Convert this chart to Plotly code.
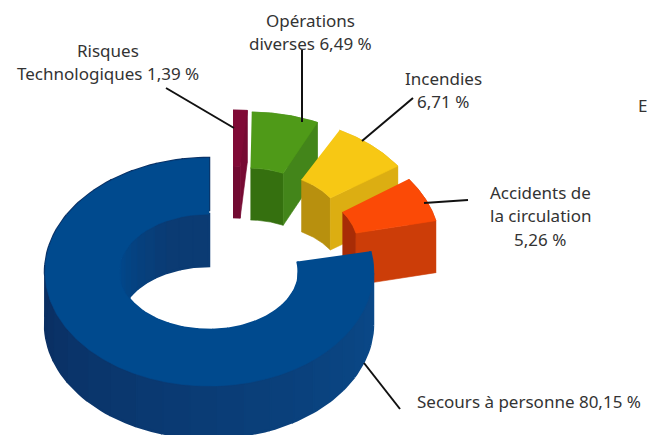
import numpy as np
import plotly.graph_objects as go

# --- data ---
categories = ["Risques Technologiques", "Opérations diverses", "Incendies",
              "Accidents de la circulation", "Secours à personne"]
values = [1.39, 6.49, 6.71, 5.26, 80.15]
label_lines = [["Risques", "Technologiques 1,39 %"], ["Opérations", "diverses 6,49 %"],
               ["Incendies", "6,71 %"], ["Accidents de", "la circulation", "5,26 %"],
               ["Secours à personne 80,15 %"]]

# --- styling / layout ---
W, H = 647, 435
CX, CY = 209, 272
RX, RY = 164, 114
IX = [82, 82, 82, 82, 90]
IY = 58
DEPTH = 52
explode = [(24, -48), (40, -46), (54, -41), (67, -26), (0, 0)]
rot = [0, -4, -1, -2, 0]
top_c = ["#800a36", "#4f9a18", "#f7c814", "#fb4a06", "#004a8e"]
inner_c = ["#720a32", "#35700f", "#b8900e", "#a82c06", "#0b3b73"]
end_c = ["#760a33", "#43851a", "#dcae12", "#cc3d08", "#0b3b73"]
label_pos = [(108, 50), (310, 20), (443, 78), (540, 192), (529, 401)]
LINE_STEP = 23.5
leaders = [(166, 88, 234, 128), (302, 50, 302, 122), (413, 98, 362, 141),
           (468, 200, 424, 203), (364, 363, 400, 409)]


def warp(t):
    return t + 10 * np.sin(np.radians(t)) ** 4


def arc(t0, t1, rx, ry, dx, dy, dz=0, n=50):
    t = warp(np.linspace(t0, t1, n))
    a = np.radians(t)
    return CX + dx + rx * np.sin(a), CY + dy - ry * np.cos(a) + dz


fig = go.Figure()


def poly(xs, ys, color, name, lw=0.6):
    fig.add_trace(go.Scatter(x=np.round(xs, 2).tolist(), y=np.round(ys, 2).tolist(),
                             mode="lines", fill="toself", fillcolor=color,
                             line=dict(color=color, width=lw), name=name,
                             hoverinfo="name", showlegend=False))


def blend(a, b, f):
    ca = [int(a[i:i + 2], 16) for i in (1, 3, 5)]
    cb = [int(b[i:i + 2], 16) for i in (1, 3, 5)]
    return "#%02x%02x%02x" % tuple(int(p + (q - p) * f) for p, q in zip(ca, cb))


start = np.cumsum([0] + values[:-1]) * 3.6
for i, (cat, v) in enumerate(zip(categories, values)):
    t0 = start[i] + rot[i]
    t1 = t0 + v * 3.6
    dx, dy = explode[i]
    if i == 4:
        # walls shaded piece by piece
        edges = np.linspace(t0, t1, 31)
        for a, b in zip(edges[:-1], edges[1:]):
            mid = warp((a + b) / 2)
            f = np.clip((mid - 90) / 180, 0, 1)
            col = blend("#0a4a8a", "#0a2f62", f)
            x1, y1 = arc(a, b, RX, RY, dx, dy, 0, 6)
            x2, y2 = arc(b, a, RX, RY, dx, dy, DEPTH, 6)
            poly(np.r_[x1, x2], np.r_[y1, y2], col, cat, 2.5)
        for a, b in zip(edges[:-1], edges[1:]):
            mid = warp((a + b) / 2)
            f = np.clip((mid - 275) / 60, 0, 1)
            col = blend(top_c[4], inner_c[4], f)
            x1, y1 = arc(a, b, IX[i], IY, dx, dy, 0, 6)
            x2, y2 = arc(b, a, IX[i], IY, dx, dy, DEPTH, 6)
            poly(np.r_[x1, x2], np.r_[y1, y2], col, cat, 2.5)
    else:
        x1, y1 = arc(t0, t1, RX, RY, dx, dy)
        x2, y2 = arc(t1, t0, RX, RY, dx, dy, DEPTH)
        poly(np.r_[x1, x2], np.r_[y1, y2], end_c[i], cat)
        # inner wall
        x1, y1 = arc(t0, t1, IX[i], IY, dx, dy)
        x2, y2 = arc(t1, t0, IX[i], IY, dx, dy, DEPTH)
        poly(np.r_[x1, x2], np.r_[y1, y2], inner_c[i], cat)
        # end face on exploded slices
        xo, yo = arc(t1, t1, RX, RY, dx, dy, 0, 2)
        xi, yi = arc(t1, t1, IX[i], IY, dx, dy, 0, 2)
        poly([xo[0], xi[0], xi[0], xo[0]], [yo[0], yi[0], yi[0] + DEPTH, yo[0] + DEPTH],
             end_c[i], cat)
    # top face
    x1, y1 = arc(t0, t1, RX, RY, dx, dy)
    x2, y2 = arc(t1, t0, IX[i], IY, dx, dy)
    poly(np.r_[x1, x2], np.r_[y1, y2], top_c[i], cat)

shapes = [dict(type="line", xref="x", yref="y", x0=a, y0=b, x1=c, y1=d,
               line=dict(color="#111111", width=2)) for a, b, c, d in leaders]
FONT = dict(family="Noto Sans", size=17, color="#333333")
ann = []
for lines, (x, y) in zip(label_lines, label_pos):
    for k, t in enumerate(lines):
        ann.append(dict(x=x, y=y + k * LINE_STEP, xref="x", yref="y", text=t,
                        showarrow=False, font=FONT, align="center"))
ann.append(dict(x=636, y=105, xref="x", yref="y", text="E", showarrow=False, font=FONT,
                xanchor="left"))

fig.update_layout(width=W, height=H, margin=dict(l=0, r=0, t=0, b=0),
                  paper_bgcolor="white", plot_bgcolor="white",
                  xaxis=dict(range=[0, W], visible=False, fixedrange=True),
                  yaxis=dict(range=[H, 0], visible=False, fixedrange=True),
                  shapes=shapes, annotations=ann, showlegend=False)
fig.write_html("out.html", config=dict(displayModeBar=False),
               post_script="document.body.style.margin='0';document.body.style.overflow='hidden';")
